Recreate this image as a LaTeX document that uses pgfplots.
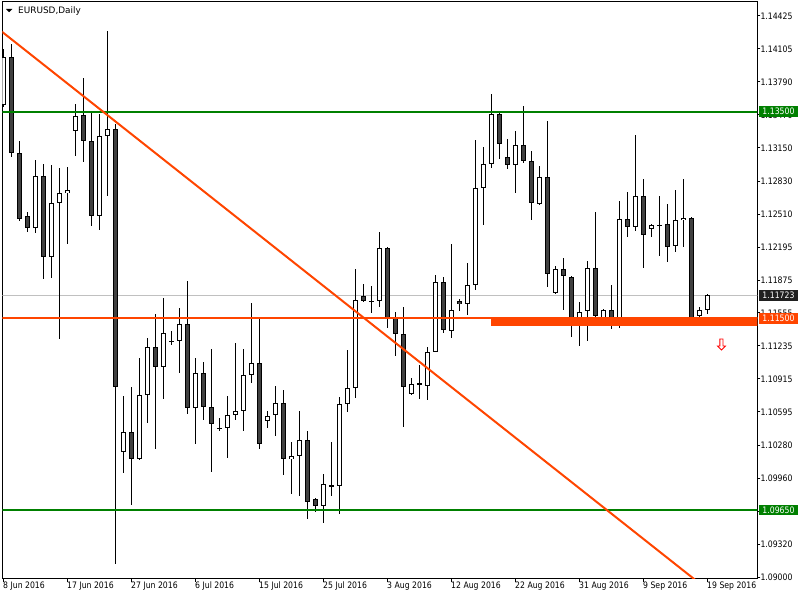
\documentclass[border=0pt]{standalone}
\usepackage{pgfplots}
\pgfplotsset{compat=1.18}
\usepackage{pgfplotstable}
\usepackage{fontspec}
\setmainfont{DejaVu Sans}[FakeStretch=0.87]
\newfontfamily\widefont{DejaVu Sans}
\usetikzlibrary{shapes.arrows}
\definecolor{mtgreen}{HTML}{008000}
\definecolor{mtorange}{HTML}{FF4500}
\definecolor{mtbear}{HTML}{404040}
\definecolor{mtbid}{HTML}{C0C0C0}
\definecolor{mtask}{HTML}{202020}
\newcommand\mtfont{\fontsize{8.9bp}{10bp}\selectfont}

% daily EURUSD candles, bar index i (Sunday bars included)
\pgfplotstableread{
i o h l c
0 1.13561 1.14106 1.13545 1.14026
1 1.14026 1.14154 1.13059 1.13097
2 1.13097 1.13213 1.12446 1.12465
3 1.12488 1.12530 1.12339 1.12378
4 1.12378 1.13033 1.12324 1.12875
5 1.12875 1.12991 1.11885 1.12097
6 1.12097 1.12984 1.11894 1.12614
7 1.12614 1.12955 1.11305 1.12711
8 1.12711 1.12962 1.12223 1.12740
9 1.13310 1.13571 1.13074 1.13461
10 1.13465 1.13823 1.13016 1.13213
11 1.13213 1.13500 1.12397 1.12494
12 1.12494 1.13474 1.12359 1.13262
13 1.13262 1.14280 1.12687 1.13329
14 1.13329 1.13381 1.09123 1.10835
15 1.10206 1.10750 1.10003 1.10399
16 1.10399 1.10837 1.09699 1.10138
17 1.10138 1.11118 1.10129 1.10757
18 1.10757 1.11311 1.10492 1.11221
19 1.11221 1.11546 1.10241 1.11028
20 1.11028 1.11698 1.10719 1.11357
21 1.11285 1.11379 1.11241 1.11273
22 1.11279 1.11598 1.10976 1.11444
23 1.11444 1.11862 1.10579 1.10631
24 1.10631 1.11118 1.10289 1.10970
25 1.10970 1.11076 1.10521 1.10641
26 1.10641 1.11205 1.10018 1.10477
27 1.10446 1.10535 1.10415 1.10436
28 1.10438 1.10750 1.10154 1.10564
29 1.10564 1.11260 1.10521 1.10602
30 1.10602 1.11205 1.10415 1.10951
31 1.10951 1.11650 1.10879 1.11067
32 1.11067 1.11495 1.10241 1.10289
33 1.10506 1.10605 1.10444 1.10554
34 1.10564 1.10847 1.10367 1.10680
35 1.10680 1.10808 1.09989 1.10138
36 1.10138 1.10303 1.09806 1.10167
37 1.10167 1.10605 1.09786 1.10322
38 1.10322 1.10415 1.09558 1.09723
39 1.09752 1.09761 1.09626 1.09684
40 1.09684 1.09996 1.09519 1.09897
41 1.09890 1.10303 1.09780 1.09877
42 1.09877 1.10744 1.09606 1.10670
43 1.10670 1.11195 1.10593 1.10825
44 1.10825 1.11978 1.10728 1.11676
45 1.11714 1.11830 1.11656 1.11666
46 1.11669 1.11811 1.11550 1.11664
47 1.11666 1.12333 1.11614 1.12179
48 1.12179 1.12191 1.11405 1.11502
49 1.11502 1.11560 1.11134 1.11347
50 1.11347 1.11608 1.10454 1.10835
51 1.10767 1.10922 1.10757 1.10864
52 1.10873 1.11047 1.10719 1.10854
53 1.10844 1.11224 1.10709 1.11173
54 1.11173 1.11918 1.11173 1.11850
55 1.11850 1.11898 1.11357 1.11386
56 1.11376 1.12220 1.11308 1.11579
57 1.11666 1.11685 1.11569 1.11637
58 1.11637 1.12037 1.11531 1.11821
59 1.11821 1.13226 1.11773 1.12759
60 1.12759 1.13158 1.12401 1.12991
61 1.12991 1.13671 1.12952 1.13474
62 1.13474 1.13484 1.13039 1.13184
63 1.13059 1.13233 1.12943 1.12981
64 1.12981 1.13310 1.12711 1.13175
65 1.13175 1.13552 1.13001 1.13020
66 1.13020 1.13117 1.12449 1.12614
67 1.12604 1.12972 1.12595 1.12865
68 1.12865 1.13407 1.11802 1.11927
69 1.11744 1.12005 1.11734 1.11976
70 1.11976 1.12082 1.11579 1.11908
71 1.11898 1.11908 1.11318 1.11502
72 1.11502 1.11656 1.11231 1.11560
73 1.11569 1.12053 1.11279 1.11985
74 1.11985 1.12527 1.11502 1.11521
75 1.11502 1.11589 1.11482 1.11579
76 1.11579 1.11821 1.11395 1.11502
77 1.11502 1.12633 1.11405 1.12459
78 1.12459 1.12720 1.12285 1.12382
79 1.12382 1.13271 1.12343 1.12682
80 1.12682 1.12846 1.11985 1.12304
81 1.12362 1.12411 1.12285 1.12401
82 1.12404 1.12682 1.12101 1.12396
83 1.12411 1.12604 1.12043 1.12188
84 1.12198 1.12740 1.12140 1.12449
85 1.12449 1.12846 1.12188 1.12469
86 1.12469 1.12478 1.11492 1.11502
87 1.11521 1.11608 1.11463 1.11579
88 1.11579 1.11734 1.11540 1.11724
}\eurusd

\begin{document}
\begin{tikzpicture}
\useasboundingbox (0,0) rectangle (800bp,600bp);
\begin{axis}[
  at={(2.3bp,21bp)}, anchor=south west,
  scale only axis, width=755bp, height=577bp,
  xmin=-0.0875, xmax=94.2875, ymin=1.089807, ymax=1.145604,
  axis line style={black, line width=1bp},
  tick align=outside, major tick length=3bp,
  tick style={black, line width=1bp},
  xtick pos=bottom, ytick pos=right, yticklabel pos=right,
  xtick={0,8,...,88},
  xticklabels={8 Jun 2016,17 Jun 2016,27 Jun 2016,6 Jul 2016,15 Jul 2016,25 Jul 2016,3 Aug 2016,12 Aug 2016,22 Aug 2016,31 Aug 2016,9 Sep 2016,19 Sep 2016},
  ytick={1.14425,1.14106,1.13787,1.13468,1.13149,1.12829,1.12510,1.12191,1.11872,1.11553,1.11234,1.10915,1.10596,1.10276,1.09957,1.09638,1.09319,1.09000},
  yticklabels={1.14425,1.14105,1.13790,1.13470,1.13150,1.12830,1.12510,1.12195,1.11875,1.11555,1.11235,1.10915,1.10595,1.10280,1.09960,1.09640,1.09320,1.09000},
  scaled y ticks=false,
  xticklabel style={font=\mtfont, anchor=north west, inner sep=0pt},
  yticklabel style={font=\mtfont, anchor=west, inner sep=0pt},
  candle/.style={draw=none, mark=none, forget plot,
    error bars/.cd, y dir=both, y explicit, error mark=none},
]
% bid line
\addplot[mtbid, line width=1bp] coordinates {(-1,1.11723) (96,1.11723)};
% wicks
\addplot[candle, error bar style={black, line width=1bp}]
  table[x=i, y expr=(\thisrow{h}+\thisrow{l})/2, y error expr=(\thisrow{h}-\thisrow{l})/2] {\eurusd};
% body outlines
\addplot[candle, error bar style={black, line width=5bp}]
  table[x=i, y expr=(\thisrow{o}+\thisrow{c})/2, y error expr={abs(\thisrow{c}-\thisrow{o})/2}] {\eurusd};
% bull bodies
\addplot[candle, error bar style={white, line width=3bp}]
  table[x=i, y expr=(\thisrow{o}+\thisrow{c})/2, y error expr={max((\thisrow{c}-\thisrow{o})/2-0.0000967,0)}] {\eurusd};
% bear bodies
\addplot[candle, error bar style={mtbear, line width=3bp}]
  table[x=i, y expr=(\thisrow{o}+\thisrow{c})/2, y error expr={max((\thisrow{o}-\thisrow{c})/2-0.0000967,0)}] {\eurusd};
% levels
\addplot[mtgreen, line width=2bp] coordinates {(-1,1.13500) (96,1.13500)};
\addplot[mtgreen, line width=2bp] coordinates {(-1,1.09650) (96,1.09650)};
\addplot[mtorange, line width=2bp] coordinates {(-1,1.11500) (96,1.11500)};
\addplot[mtorange, fill=mtorange, draw=none] coordinates {(61,1.11430) (96,1.11430) (96,1.11511) (61,1.11511)} -- cycle;
% trend line
\addplot[mtorange, line width=2bp] coordinates {(-1,1.14326) (88,1.08882)};
\node[single arrow, draw=red, fill=white, line width=0.8bp, shape border rotate=270,
  minimum height=11bp, minimum width=8bp, single arrow head extend=1.5bp, inner sep=0.6bp]
  at (axis cs:89.81,1.11256) {};
\coordinate (b1) at (axis cs:94.2875,1.13500);
\coordinate (b2) at (axis cs:94.2875,1.11723);
\coordinate (b3) at (axis cs:94.2875,1.11500);
\coordinate (b4) at (axis cs:94.2875,1.09650);
\end{axis}
\tikzset{pricebox/.style={anchor=west, xshift=1.2bp, minimum width=39.5bp, minimum height=10.5bp,
  inner sep=0pt, text=white, font=\mtfont}}
\node[pricebox, fill=mtgreen] at (b1) {1.13500};
\node[pricebox, fill=mtask] at (b2) {1.11723};
\node[pricebox, fill=mtorange] at (b3) {1.11500};
\node[pricebox, fill=mtgreen] at (b4) {1.09650};
% chart caption
\fill[black] (6bp,591bp) -- (12.3bp,591bp) -- (9.15bp,587.8bp) -- cycle;
\node[anchor=base west, inner sep=0pt, font=\widefont\mtfont] at (18bp,586.5bp) {EURUSD,Daily};
\end{tikzpicture}
\end{document}
